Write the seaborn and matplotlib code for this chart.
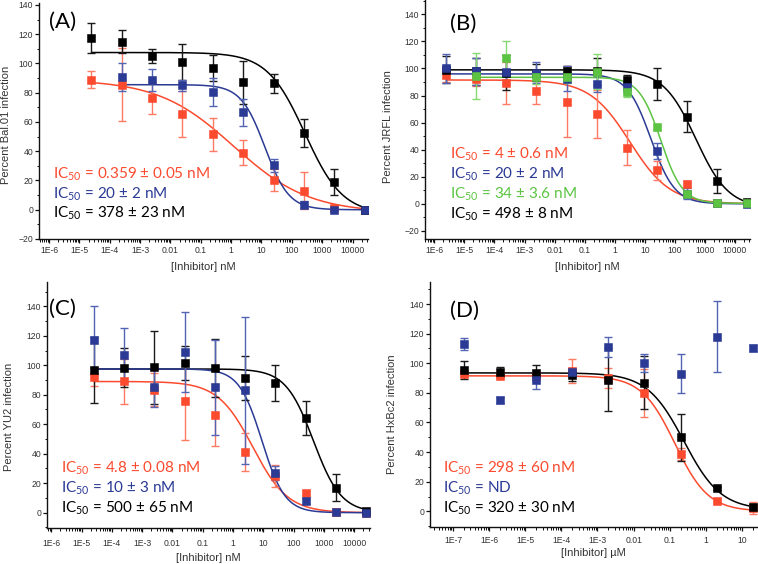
import numpy as np
import seaborn as sns
import matplotlib
matplotlib.use("Agg")
import matplotlib.pyplot as plt
from matplotlib.ticker import FixedLocator, LogLocator, MultipleLocator, NullFormatter

# concentrations (nM for A-C, uM for D)
a_x = [2.5e-5, 2.5e-4, 2.5e-3, 0.025, 0.25, 2.5, 25, 250, 2500, 25000]
b_x = [2.5e-6, 2.5e-5, 2.5e-4, 2.5e-3, 0.025, 0.25, 2.5, 25, 250, 2500, 25000]
c_x = [2.5e-5, 2.5e-4, 2.5e-3, 0.025, 0.25, 2.5, 25, 250, 2500, 25000]
d_x = [2e-7, 2e-6, 2e-5, 2e-4, 2e-3, 0.02, 0.2, 2, 20]

# (A) Bal.01
a_black = [117.5, 115, 105, 101, 97, 87, 86.5, 52.5, 19, 0]
a_black_err = [10.5, 8, 5, 12, 9, 15, 6.5, 9.5, 9, 1]
a_blue = [np.nan, 90.5, 89, 85, 80.5, 66.5, 30.5, 3.5, 0, 0]
a_blue_err = [np.nan, 9.5, 7.5, 4, 9.5, 9, 4.5, 2.5, 1, 1]
a_red = [89, 85.5, 76.5, 65.5, 51.5, 39, 20.5, 13, 1, 0]
a_red_err = [6, 25, 11, 16, 11.5, 8.5, 7.5, 12.5, 2, 1]

# (B) JRFL
b_black = [99, 98, 97, 97, 98.5, 98, 91.5, 88.5, 64.5, 17, 1]
b_black_err = [10, 10, 13, 6, 3, 10, 4, 12, 11.5, 9, 1]
b_blue = [100, 98, 97.5, 97, 92.5, 88.5, 86, 39, 7.5, 0.5, 0]
b_blue_err = [10.5, 10, 9, 8, 9.5, 6, 4, 6, 4, 1, 1]
b_green = [np.nan, 94.5, 107.5, 93.5, 94, 97.5, 82.8, 56.4, 7.6, 0.7, 0.3]
b_green_err = [np.nan, 17, 12.5, 5, 5, 13, 4, 2, 2, 1, 1]
b_red = [95, 92, 89.5, 83.5, 75.5, 66.3, 41.6, 24.9, 14.5, 0.5, 0.5]
b_red_err = [5, 5, 15.5, 9.5, 26, 18, 12.7, 7, 2, 1, 1]

# (C) YU2
c_black = [97, 98.4, 98.5, 101.5, 98, 91.5, 88, 64.5, 17, 1]
c_black_err = [22.5, 13, 25, 11.5, 19.5, 15, 12, 11.5, 9, 1]
c_blue = [117, 107, 85, 109, 85, 83, 27, 8, 0.5, 0]
c_blue_err = [23, 18, 13, 27, 32, 50, 5, 2, 1, 1]
c_red = [92, 89, 83.5, 75.5, 66, 41, 25, 13.5, 0.5, 0]
c_red_err = [6, 15, 11, 26, 21, 13, 7.5, 1.5, 1, 1]

# (D) HxBc2
d_black = [95.5, 94, 93.5, 92, 89, 87, 50, 15.5, 3]
d_black_err = [6, 3.5, 5, 4, 21.5, 18, 16, 1, 2]
d_blue = [113, 75, 88.5, 94, 111, 100, 93, 118, 110.5]
d_blue_err = [4, 2, 6, 3, 7, 6, 13, 24, 2]
d_red = [92.5, 91.5, 91.5, 95, 90, 80, 38.5, 7, 2]
d_red_err = [2, 1, 1, 8, 7, 16, 4, 1, 4]

# dose-response fits: top, bottom, IC50, hill slope
a_black_fit = (107.5, -3, 270, 0.7)
a_blue_fit = (85.5, 0, 13, 1.1)
a_red_fit = (89, -2, 1.2, 0.35)
b_black_fit = (99, -3, 500, 0.8)
b_blue_fit = (96, 0, 16, 1.1)
b_green_fit = (93.5, 0.3, 34, 1.2)
b_red_fit = (91.5, 0, 3.2, 0.65)
c_black_fit = (97.5, 0, 450, 0.95)
c_blue_fit = (97.5, 0, 9, 1.15)
c_red_fit = (89, 0, 4.5, 0.75)
d_black_fit = (93.5, 1, 0.25, 0.85)
d_red_fit = (91.5, 0, 0.14, 0.94)

# IC50 legends
a_labels = ["0.359 ± 0.05 nM", "20 ± 2 nM", "378 ± 23 nM"]
b_labels = ["4 ± 0.6 nM", "20 ± 2 nM", "34 ± 3.6 nM", "498 ± 8 nM"]
c_labels = ["4.8 ± 0.08 nM", "10 ± 3 nM", "500 ± 65 nM"]
d_labels = ["298 ± 60 nM", "ND", "320 ± 30 nM"]

nm_ticks = [1e-6, 1e-5, 1e-4, 1e-3, 1e-2, 1e-1, 1, 10, 100, 1000, 10000]
nm_ticklabels = ["1E-6", "1E-5", "1E-4", "1E-3", "0.01", "0.1", "1", "10", "100", "1000", "10000"]
um_ticks = [1e-7, 1e-6, 1e-5, 1e-4, 1e-3, 1e-2, 1e-1, 1, 10]
um_ticklabels = ["1E-7", "1E-6", "1E-5", "1E-4", "1E-3", "0.01", "0.1", "1", "10"]

RED = "#fb4a2e"
BLUE = "#2b3a94"
GREEN = "#5cc442"
BLACK = "#000000"
ERR = {RED: "#ff7a62", BLUE: "#5264b4", GREEN: "#86d870", BLACK: "#1a1a1a"}

sns.set_theme(style="ticks")
plt.rcParams["font.family"] = ["Liberation Sans", "DejaVu Sans"]
plt.rcParams["mathtext.default"] = "regular"

W, H = 758, 564
fig = plt.figure(figsize=(W / 100, H / 100), dpi=100)


def box(l, r, t, b):
    return [l / W, 1 - b / H, (r - l) / W, (b - t) / H]


def hill(x, fit):
    top, bottom, ic50, n = fit
    return bottom + (top - bottom) / (1 + (x / ic50) ** n)


def series(ax, x, y, err, color, fit=None):
    x = np.array(x, dtype=float)
    y = np.array(y, dtype=float)
    ok = ~np.isnan(y)
    if fit is not None:
        xs = np.logspace(np.log10(x[ok][0]), np.log10(x[ok][-1]), 300)
        sns.lineplot(x=xs, y=hill(xs, fit), ax=ax, color=color, lw=1.1,
                     estimator=None, sort=False, zorder=3)
    ax.errorbar(x[ok], y[ok], yerr=np.array(err, dtype=float)[ok], fmt="none",
                ecolor=ERR[color], elinewidth=1, capsize=2.6, capthick=1, zorder=4)
    sns.scatterplot(x=x[ok], y=y[ok], ax=ax, marker="s", s=30, color=color,
                    edgecolor=color, linewidth=0.4, zorder=5)


def style(ax, xlim, ylim, ticks, ticklabels, xlabel, ylabel, ylab_xy, xlab_xy, xpad):
    ax.set_xscale("log")
    ax.set_xlim(xlim)
    ax.set_ylim(ylim)
    ax.xaxis.set_major_locator(FixedLocator(ticks))
    ax.set_xticklabels(ticklabels)
    ax.xaxis.set_minor_locator(LogLocator(base=10, subs=np.arange(2, 10), numticks=30))
    ax.xaxis.set_minor_formatter(NullFormatter())
    ax.yaxis.set_major_locator(MultipleLocator(20))
    ax.yaxis.set_minor_locator(MultipleLocator(10))
    sns.despine(ax=ax)
    for s in ("left", "bottom"):
        ax.spines[s].set_linewidth(1.0)
        ax.spines[s].set_color("#111111")
    ax.tick_params(which="major", direction="out", length=3, width=0.9,
                   labelsize=6.2, pad=1.2, colors="#111111", labelcolor="#333333")
    ax.tick_params(axis="x", which="major", pad=xpad)
    ax.tick_params(which="minor", direction="out", length=1.8, width=0.7, colors="#111111")
    ax.set_xlabel(xlabel, fontsize=8, color="#333333")
    ax.set_ylabel(ylabel, fontsize=8, color="#333333")
    ax.yaxis.set_label_coords(*ylab_xy)
    ax.yaxis.label.set_va("center")
    ax.xaxis.set_label_coords(*xlab_xy)
    ax.xaxis.label.set_va("center")


def ic_text(x, ys, labels, colors):
    for y, lab, col in zip(ys, labels, colors):
        fig.text(x / W, 1 - y / H, "IC$_{50}$ = " + lab, color=col, fontsize=11,
                 family=["Lato", "DejaVu Sans"], va="baseline", ha="left")


def panel_tag(x, y, tag):
    fig.text(x / W, 1 - y / H, tag, fontsize=16, family=["Lato", "DejaVu Sans"],
             va="baseline", ha="left", color="black")


# (A)
axA = fig.add_axes(box(39, 368, 3.5, 239))
series(axA, a_x, a_red, a_red_err, RED, a_red_fit)
series(axA, a_x, a_black, a_black_err, BLACK, a_black_fit)
series(axA, a_x, a_blue, a_blue_err, BLUE, a_blue_fit)
style(axA, (10 ** -6.33, 10 ** 4.51), (-20, 141), nm_ticks, nm_ticklabels,
      "[Inhibitor] nM", "Percent Bal.01 infection", (-0.1, 0.484), (0.5, -0.118), 1.8)
panel_tag(49, 28, "(A)")
ic_text(53, [179, 199, 218], a_labels, [RED, BLUE, BLACK])

# (B)
axB = fig.add_axes(box(425, 750, 0, 239))
series(axB, b_x, b_red, b_red_err, RED, b_red_fit)
series(axB, b_x, b_black, b_black_err, BLACK, b_black_fit)
series(axB, b_x, b_blue, b_blue_err, BLUE, b_blue_fit)
series(axB, b_x, b_green, b_green_err, GREEN, b_green_fit)
style(axB, (10 ** -6.31, 10 ** 4.5), (-26, 150.6), nm_ticks, nm_ticklabels,
      "[Inhibitor] nM", "Percent JRFL infection", (-0.114, 0.469), (0.5, -0.116), 1.8)
panel_tag(450, 30, "(B)")
ic_text(450, [159, 179, 199, 219], b_labels, [RED, BLUE, GREEN, BLACK])

# (C)
axC = fig.add_axes(box(47, 370, 282, 527.7))
series(axC, c_x, c_red, c_red_err, RED, c_red_fit)
series(axC, c_x, c_black, c_black_err, BLACK, c_black_fit)
series(axC, c_x, c_blue, c_blue_err, BLUE, c_blue_fit)
style(axC, (10 ** -6.14, 10 ** 4.52), (-10.2, 156.5), nm_ticks, nm_ticklabels,
      "[Inhibitor] nM", "Percent YU2 infection", (-0.118, 0.45), (0.5, -0.123), 5.2)
panel_tag(49, 315, "(C)")
ic_text(61, [472.7, 492.7, 512.7], c_labels, [RED, BLUE, BLACK])

# (D)
axD = fig.add_axes(box(430, 757, 282, 527))
series(axD, d_x, d_red, d_red_err, RED, d_red_fit)
series(axD, d_x, d_black, d_black_err, BLACK, d_black_fit)
series(axD, d_x, d_blue, d_blue_err, BLUE)
style(axD, (10 ** -7.64, 10 ** 1.42), (-10.6, 154.9), um_ticks, um_ticklabels,
      "[Inhibitor] µM", "Percent HxBc2 infection", (-0.115, 0.46), (0.5, -0.106), 3.2)
panel_tag(450, 317, "(D)")
ic_text(443, [472.7, 492.7, 512.7], d_labels, [RED, BLUE, BLACK])

fig.savefig("out.png", dpi=100)
